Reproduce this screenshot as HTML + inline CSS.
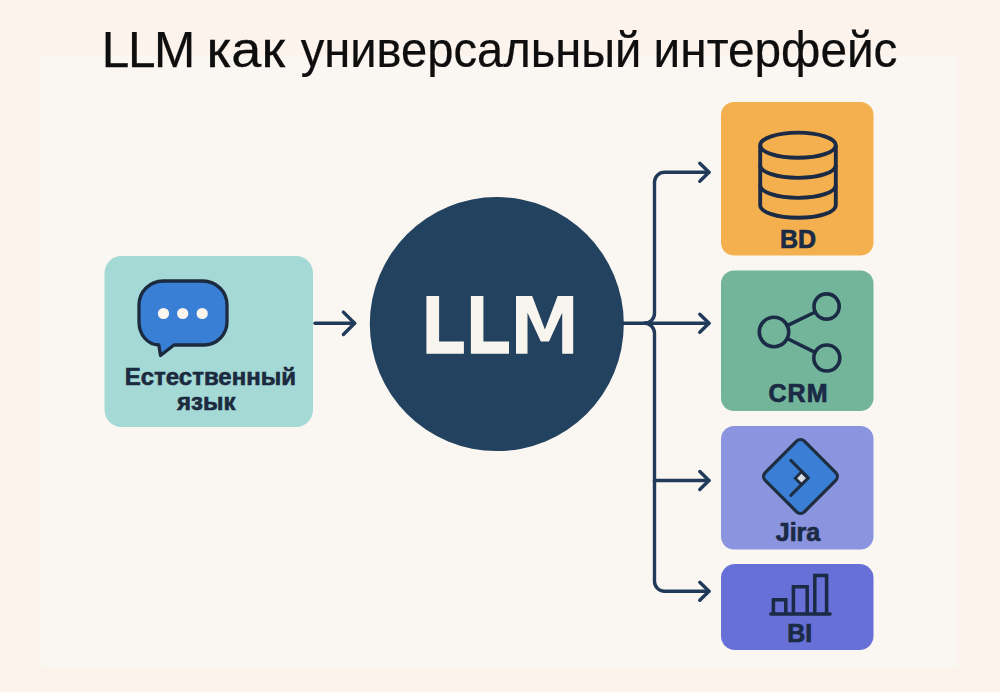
<!DOCTYPE html>
<html><head><meta charset="utf-8">
<style>
html,body{margin:0;padding:0;width:1000px;height:692px;overflow:hidden;background:#fcf3ec;}
svg{display:block;}
text{font-family:"Liberation Sans",sans-serif;}
</style></head>
<body>
<svg width="1000" height="692" viewBox="0 0 1000 692">
  <rect x="0" y="0" width="1000" height="692" fill="#fcf3ec"/>
  <rect x="40.5" y="56" width="917.5" height="611.5" fill="#faf7f2"/>

  <!-- title -->
  <g font-size="49.5" fill="#0e0e0e" stroke="#0e0e0e" stroke-width="0.25">
    <text transform="matrix(1 0 0 1 101.8 67.2)" x="0" y="0" letter-spacing="-1.4">LLM</text>
    <text transform="matrix(1.093 0 0 1 206.5 67.2)" x="0" y="0">как</text>
    <text transform="matrix(0.951 0 0 1 300.8 67.2)" x="0" y="0">универсальный</text>
    <text transform="matrix(0.965 0 0 1 653.6 67.2)" x="0" y="0">интерфейс</text>
  </g>

  <!-- left box -->
  <rect x="104.5" y="256" width="208.5" height="171" rx="17" fill="#a5d9d6"/>
  <path d="M163,281 H203 A24,24 0 0 1 227,305 V322 A23,23 0 0 1 204,345 H174 L160.5,355.5 L158.8,345 A19.8,23 0 0 1 139,322 V305 A24,24 0 0 1 163,281 Z" fill="#3a7fd6" stroke="#1b2a3f" stroke-width="3.3" stroke-linejoin="round"/>
  <circle cx="163.5" cy="313.5" r="5.6" fill="#fdf6ee"/>
  <circle cx="182.7" cy="313.5" r="5.6" fill="#fdf6ee"/>
  <circle cx="202.2" cy="313.5" r="5.6" fill="#fdf6ee"/>
  <text x="210.3" y="384.5" text-anchor="middle" font-size="24" font-weight="bold" fill="#1b2a3f" stroke="#1b2a3f" stroke-width="0.6">Естественный</text>
  <text x="206.2" y="410.1" text-anchor="middle" font-size="24" font-weight="bold" fill="#1b2a3f" stroke="#1b2a3f" stroke-width="0.6">язык</text>

  <!-- arrow left -->
  <g fill="none" stroke="#213a5a" stroke-width="3.4" stroke-linecap="round" stroke-linejoin="round">
    <path d="M315,323.3 H354.6"/>
    <path d="M343.4,312.1 L354.6,323.3 L343.4,334.5"/>
  </g>

  <!-- circle -->
  <circle cx="496.8" cy="324.1" r="127" fill="#23425f"/>
  <g fill="#f8f4ee">
    <path d="M426.4,296 H439.1 V341.6 H463.9 V353.8 H426.4 Z"/>
    <path d="M470.9,296 H483.4 V341.6 H509 V353.8 H470.9 Z"/>
    <path d="M516,353.8 V296 H532.2 L544.9,329.5 L557.6,296 H573.2 V353.8 H562.2 V312.7 L549,341.6 H540.8 L527.5,312.7 V353.8 Z"/>
  </g>

  <!-- connectors -->
  <g fill="none" stroke="#213a5a" stroke-width="3.4" stroke-linecap="round" stroke-linejoin="round">
    <path d="M709,172.3 H664.5 A10,10 0 0 0 654.5,182.3 V313.3 A10,10 0 0 1 644.5,323.3"/>
    <path d="M644.5,323.3 A10,10 0 0 1 654.5,333.3 V581.3 A10,10 0 0 0 664.5,591.3 H709"/>
    <path d="M623,323.3 H709"/>
    <path d="M654.5,480.5 H709"/>
    <path d="M699.8,163.3 L709,172.3 L699.8,181.3"/>
    <path d="M699.8,314.3 L709,323.3 L699.8,332.3"/>
    <path d="M699.8,471.5 L709,480.5 L699.8,489.5"/>
    <path d="M699.8,582.3 L709,591.3 L699.8,600.3"/>
  </g>

  <!-- BD box -->
  <rect x="721" y="102" width="152.5" height="153.5" rx="13" fill="#f4b04f"/>
  <g fill="none" stroke="#1b2a45" stroke-width="3.9">
    <ellipse cx="798" cy="145.2" rx="37.8" ry="12.6"/>
    <path d="M760.2,145.2 V205.2 A37.8,12.6 0 0 0 835.8,205.2 V145.2"/>
    <path d="M760.2,165.3 A37.8,12.6 0 0 0 835.8,165.3"/>
    <path d="M760.2,185.3 A37.8,12.6 0 0 0 835.8,185.3"/>
  </g>
  <text x="798" y="247.9" text-anchor="middle" font-size="25" font-weight="bold" fill="#1b2a45" stroke="#1b2a45" stroke-width="0.7">BD</text>

  <!-- CRM box -->
  <rect x="721" y="270.5" width="152.5" height="140.5" rx="13" fill="#72b59a"/>
  <g fill="none" stroke="#1b2a45" stroke-width="3.6" stroke-linecap="round">
    <circle cx="774" cy="332" r="14.7"/>
    <circle cx="826.6" cy="306.5" r="12.6"/>
    <circle cx="826.8" cy="358" r="13"/>
    <path d="M787.2,325.6 L815.3,312"/>
    <path d="M787.2,338.5 L815.1,352.3"/>
  </g>
  <text x="798.5" y="401.5" text-anchor="middle" font-size="25" font-weight="bold" letter-spacing="1" fill="#1b2a45" stroke="#1b2a45" stroke-width="0.7">CRM</text>

  <!-- Jira box -->
  <rect x="721" y="426" width="152.5" height="123.5" rx="13" fill="#8b94df"/>
  <rect x="772.8" y="448.8" width="55.4" height="55.4" rx="5.5" transform="rotate(45 800.5 476.5)" fill="#3a7fd5" stroke="#1e2d40" stroke-width="3.2"/>
  <path d="M790.8,460.4 L808.3,477.9 L790.8,495.4" fill="none" stroke="#1e2d40" stroke-width="3" stroke-linecap="round" stroke-linejoin="round"/>
  <rect x="795.7" y="472.4" width="11.6" height="11.6" transform="rotate(45 801.5 478.2)" fill="#1e2d40"/>
  <rect x="798.4" y="475.1" width="6.2" height="6.2" transform="rotate(45 801.5 478.2)" fill="#d9dbe6"/>
  <text x="798" y="540.8" text-anchor="middle" font-size="25" font-weight="bold" fill="#1b2a45" stroke="#1b2a45" stroke-width="0.7">Jira</text>

  <!-- BI box -->
  <rect x="721" y="564" width="152.5" height="86" rx="14" fill="#6670d6"/>
  <g fill="none" stroke="#1b2a45" stroke-width="3.5" stroke-linecap="butt">
    <path d="M770.8,614 H830" stroke-linecap="round"/>
    <path d="M773.4,614 V599.8 H785.8 V614"/>
    <path d="M793.4,614 V586.8 H807.2 V614"/>
    <path d="M814.8,614 V575.4 H826.6 V614"/>
  </g>
  <text x="799.8" y="642.4" text-anchor="middle" font-size="25" font-weight="bold" fill="#1b2a45" stroke="#1b2a45" stroke-width="0.7">BI</text>
</svg>
</body></html>
